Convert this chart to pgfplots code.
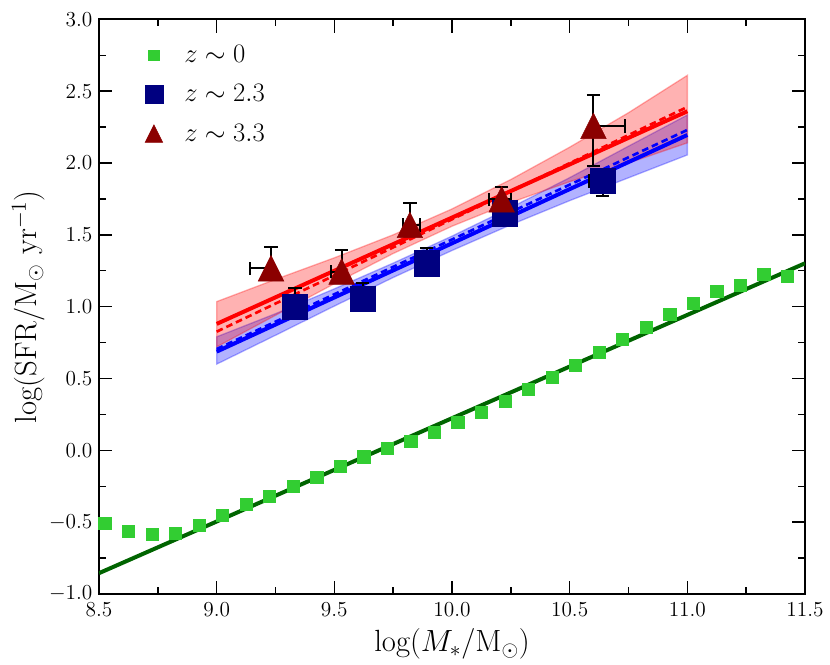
\RequirePackage{fix-cm}
\documentclass[border=0pt]{standalone}
\usepackage{fontspec}
\usepackage{pgfplots}
\usepackage{pgfplotstable}
\pgfplotsset{compat=1.18}
\definecolor{limeg}{RGB}{50,205,50}
\definecolor{navyb}{RGB}{0,0,128}
\definecolor{dred}{RGB}{139,0,0}
\definecolor{dgreen}{RGB}{0,100,0}
\pgfdeclareplotmark{mtri}{%
  \pgfpathmoveto{\pgfqpoint{0pt}{\pgfplotmarksize}}%
  \pgfpathlineto{\pgfqpoint{-\pgfplotmarksize}{-\pgfplotmarksize}}%
  \pgfpathlineto{\pgfqpoint{\pgfplotmarksize}{-\pgfplotmarksize}}%
  \pgfpathclose\pgfusepathqfillstroke}
\pgfdeclareplotmark{caph}{%
  \pgfpathmoveto{\pgfqpoint{-5pt}{0pt}}%
  \pgfpathlineto{\pgfqpoint{5pt}{0pt}}%
  \pgfsetlinewidth{1.5pt}\pgfusepathqstroke}
\pgfdeclareplotmark{capv}{%
  \pgfpathmoveto{\pgfqpoint{0pt}{-5pt}}%
  \pgfpathlineto{\pgfqpoint{0pt}{5pt}}%
  \pgfsetlinewidth{1.5pt}\pgfusepathqstroke}
\pgfplotstableread{
x y
8.525 -0.507
8.625 -0.561
8.725 -0.584
8.825 -0.575
8.925 -0.524
9.025 -0.452
9.125 -0.375
9.225 -0.320
9.325 -0.248
9.425 -0.187
9.525 -0.109
9.625 -0.044
9.725 0.015
9.825 0.065
9.925 0.126
10.025 0.193
10.125 0.265
10.225 0.343
10.325 0.425
10.425 0.508
10.525 0.594
10.625 0.683
10.725 0.773
10.825 0.857
10.925 0.949
11.025 1.024
11.125 1.105
11.225 1.151
11.325 1.225
11.425 1.214
}\zzero
\pgfplotstableread{
x y xp xm yp ym
9.333 1.000 0 0 0.128 0
9.620 1.058 0 0 0.109 0
9.892 1.302 0 0 0.104 0
10.225 1.650 0 0 0.060 0
10.640 1.875 0 0.060 0 0.103
}\ztwo
\pgfplotstableread{
x y xp xm yp ym
9.231 1.267 0 0.089 0.146 0.03
9.531 1.244 0 0.047 0.151 0.03
9.821 1.569 0.045 0.028 0.155 0.03
10.211 1.747 0.039 0.052 0.088 0.03
10.601 2.258 0.134 0 0.215 0.279
}\zthree
\begin{document}
\begin{tikzpicture}
\begin{axis}[
  scale only axis, width=529.5pt, height=431pt,
  xmin=8.5, xmax=11.5, ymin=-1, ymax=3,
  xtick={8.5,9.0,9.5,10.0,10.5,11.0,11.5},
  ytick={-1.0,-0.5,0.0,0.5,1.0,1.5,2.0,2.5,3.0},
  minor tick num=1,
  tick align=inside, major tick length=10pt, minor tick length=5pt,
  every tick/.style={black, line width=1.1pt},
  axis line style={line width=1.5pt},
  /pgf/number format/fixed, /pgf/number format/fixed zerofill,
  /pgf/number format/precision=1,
  ticklabel style={font=\fontsize{16}{19}\selectfont},
  xticklabel style={yshift=-3pt},
  yticklabel style={xshift=-1.5pt},
  xlabel={$\log(M_*/\mathrm{M}_\odot)$},
  ylabel={$\log(\mathrm{SFR}/\mathrm{M}_\odot\ \mathrm{yr}^{-1})$},
  label style={font=\fontsize{23}{27}\selectfont},
  xlabel style={at={(axis description cs:0.5,0)}, anchor=center, yshift=-37.5pt},
  ylabel style={at={(axis description cs:0,0.5)}, anchor=center, yshift=53pt},
  legend style={at={(axis description cs:0.059,0.964)}, anchor=north west,
    draw=none, fill=none, font=\fontsize{20}{24}\selectfont, row sep=11pt, column sep=14pt},
  legend cell align=left,
  legend image code/.code={\draw[#1] plot coordinates {(0pt,0pt)};},
]
% bands
\addplot[forget plot, fill=blue, fill opacity=0.3, draw=blue, draw opacity=0.3, line width=1pt]
 coordinates {(9.0,0.790) (9.25,0.951) (9.5,1.124) (9.75,1.303) (10.0,1.491) (10.25,1.690) (10.5,1.898) (10.75,2.117) (11.0,2.334)
  (11.0,2.056) (10.75,1.897) (10.5,1.738) (10.25,1.570) (10.0,1.391) (9.75,1.203) (9.5,1.004) (9.25,0.801) (9.0,0.600)} -- cycle;
\addplot[forget plot, fill=red, fill opacity=0.3, draw=red, draw opacity=0.3, line width=1pt]
 coordinates {(9.0,1.035) (9.25,1.190) (9.5,1.340) (9.75,1.500) (10.0,1.680) (10.25,1.885) (10.5,2.110) (10.75,2.350) (11.0,2.610)
  (11.0,2.140) (10.75,2.000) (10.5,1.870) (10.25,1.725) (10.0,1.560) (9.75,1.370) (9.5,1.160) (9.25,0.940) (9.0,0.720)} -- cycle;
% fit lines
\addplot[forget plot, blue, line width=3pt] coordinates {(9.0,0.687) (11.0,2.195)};
\addplot[forget plot, blue, line width=2pt, dash pattern=on 5pt off 3pt] coordinates {(9.0,0.705) (11.0,2.230)};
\addplot[forget plot, red, line width=3pt] coordinates {(9.0,0.880) (11.0,2.360)};
\addplot[forget plot, red, line width=2pt, dash pattern=on 5pt off 3pt] coordinates {(9.0,0.826) (11.0,2.390)};
\addplot[forget plot, dgreen, line width=3pt] coordinates {(8.5,-0.855) (11.5,1.302)};
% z~0
\addplot[forget plot, only marks, mark=square*, mark size=4.6pt, color=limeg] table[x=x,y=y] {\zzero};
% error bars (lines only), drawn beneath the markers
\addplot[forget plot, only marks, mark=none,
  error bars/.cd, x dir=both, x explicit, y dir=both, y explicit, error mark=none,
  error bar style={black, line width=1.5pt, solid}]
  table[x=x, y=y, x error plus=xp, x error minus=xm, y error plus=yp, y error minus=ym] {\ztwo};
\addplot[forget plot, only marks, mark=none,
  error bars/.cd, x dir=both, x explicit, y dir=both, y explicit, error mark=none,
  error bar style={black, line width=1.5pt, solid}]
  table[x=x, y=y, x error plus=xp, x error minus=xm, y error plus=yp, y error minus=ym] {\zthree};
% error bar caps (at the ends of the error bars)
\addplot[forget plot, only marks, mark=caph, mark options={black, line width=1.5pt, solid}] table[x=x, y expr=\thisrow{y}+\thisrow{yp}] {\ztwo};
\addplot[forget plot, only marks, mark=caph, mark options={black, line width=1.5pt, solid}] table[x=x, y expr=\thisrow{y}-\thisrow{ym}] {\ztwo};
\addplot[forget plot, only marks, mark=capv, mark options={black, line width=1.5pt, solid}] table[x expr=\thisrow{x}+\thisrow{xp}, y=y] {\ztwo};
\addplot[forget plot, only marks, mark=capv, mark options={black, line width=1.5pt, solid}] table[x expr=\thisrow{x}-\thisrow{xm}, y=y] {\ztwo};
\addplot[forget plot, only marks, mark=caph, mark options={black, line width=1.5pt, solid}] table[x=x, y expr=\thisrow{y}+\thisrow{yp}] {\zthree};
\addplot[forget plot, only marks, mark=caph, mark options={black, line width=1.5pt, solid}] table[x=x, y expr=\thisrow{y}-\thisrow{ym}] {\zthree};
\addplot[forget plot, only marks, mark=capv, mark options={black, line width=1.5pt, solid}] table[x expr=\thisrow{x}+\thisrow{xp}, y=y] {\zthree};
\addplot[forget plot, only marks, mark=capv, mark options={black, line width=1.5pt, solid}] table[x expr=\thisrow{x}-\thisrow{xm}, y=y] {\zthree};
% markers on top
\addplot[forget plot, only marks, mark=square*, mark size=9.4pt, color=navyb] table[x=x, y=y] {\ztwo};
\addplot[forget plot, only marks, mark=mtri, mark size=9.6pt, color=dred] table[x=x, y=y] {\zthree};
% legend
\addlegendimage{only marks, mark=square*, mark size=4pt, color=limeg}
\addlegendentry{$z\sim0$}
\addlegendimage{only marks, mark=square*, mark size=6.75pt, color=navyb}
\addlegendentry{$z\sim2.3$}
\addlegendimage{only marks, mark=mtri, mark size=6.6pt, color=dred}
\addlegendentry{$z\sim3.3$}
\end{axis}
\pgfresetboundingbox
\path (current axis.south west) ++(-74.25pt,-52.5pt) coordinate (bl);
\path (current axis.north east) ++(18.75pt,14.5pt) coordinate (tr);
\useasboundingbox (bl) rectangle (tr);
\end{tikzpicture}
\end{document}
